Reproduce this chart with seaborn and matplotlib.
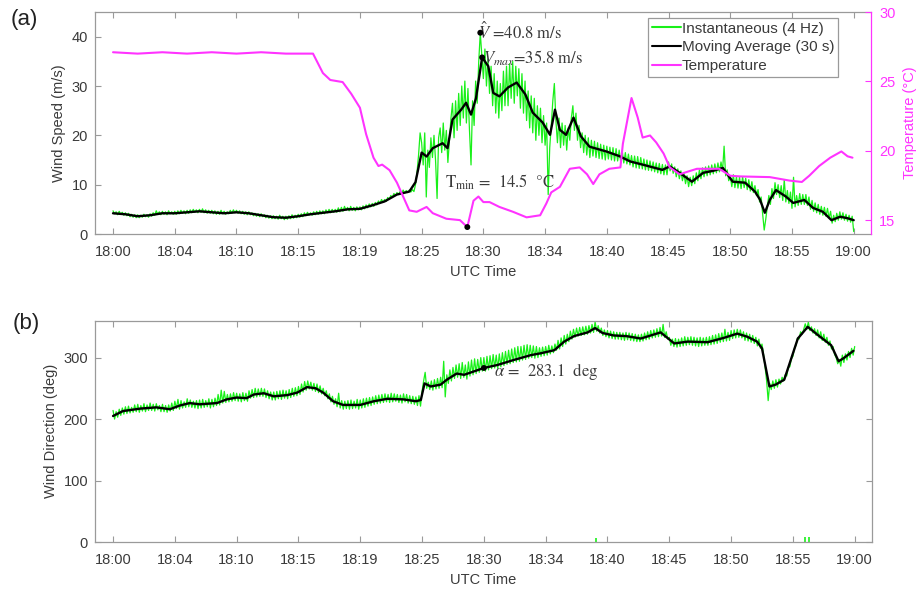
import numpy as np
import pandas as pd
import matplotlib
matplotlib.use("Agg")
import matplotlib.pyplot as plt
import seaborn as sns
from matplotlib.lines import Line2D

# ---------------- data ----------------
TICK_MIN = [0, 5, 10, 15, 20, 25, 30, 35, 40, 45, 50, 55, 60]
TICK_LABELS = ["18:00", "18:04", "18:10", "18:15", "18:19", "18:25", "18:30",
               "18:34", "18:40", "18:45", "18:50", "18:55", "19:00"]

# instantaneous wind speed (m/s), one value every 0.125 min (one row per minute)
INST_SPEED = [
    4.7, 4.1, 4.5, 3.9, 4.6, 4.0, 4.4, 3.8,
    4.3, 3.7, 4.2, 3.5, 4.0, 3.4, 3.9, 3.3,
    3.9, 3.3, 3.8, 3.4, 4.0, 3.5, 3.9, 3.4,
    4.1, 3.6, 4.3, 3.8, 4.7, 4.0, 4.5, 3.9,
    4.6, 4.0, 4.5, 3.9, 4.7, 4.1, 4.5, 4.0,
    4.6, 4.0, 4.7, 4.1, 4.8, 4.2, 4.7, 4.1,
    4.8, 4.2, 4.9, 4.3, 5.0, 4.4, 4.9, 4.3,
    5.0, 4.4, 5.1, 4.3, 4.9, 4.2, 4.8, 4.2,
    4.8, 4.1, 4.7, 4.0, 4.6, 4.0, 4.8, 4.1,
    4.6, 4.0, 4.5, 4.1, 4.8, 4.2, 4.9, 4.3,
    4.8, 4.2, 4.7, 4.1, 4.6, 4.0, 4.5, 3.9,
    4.5, 3.9, 4.3, 3.7, 4.2, 3.6, 4.1, 3.5,
    4.1, 3.5, 3.9, 3.3, 3.8, 3.2, 3.7, 3.1,
    3.7, 3.1, 3.6, 3.0, 3.8, 3.1, 3.6, 2.9,
    3.6, 3.0, 3.7, 3.1, 3.9, 3.2, 3.8, 3.3,
    4.0, 3.4, 4.1, 3.5, 4.3, 3.7, 4.4, 3.8,
    4.3, 3.8, 4.5, 3.9, 4.6, 4.0, 4.7, 4.1,
    4.7, 4.1, 4.9, 4.3, 5.0, 4.3, 5.0, 4.4,
    5.0, 4.4, 5.3, 4.5, 5.4, 4.6, 5.6, 4.8,
    5.4, 4.7, 5.6, 4.8, 5.4, 4.7, 5.5, 4.9,
    5.5, 4.9, 5.7, 5.1, 5.9, 5.3, 6.1, 5.5,
    6.2, 5.6, 6.4, 5.9, 6.7, 6.2, 7.0, 6.4,
    7.0, 6.6, 7.4, 7.0, 7.8, 7.4, 8.2, 7.8,
    8.4, 8.0, 8.6, 8.2, 8.9, 8.3, 8.8, 8.4,
    8.9, 8.5, 9.0, 8.6, 10.0, 12.5, 16.0, 20.5,
    18.5, 14.0, 20.5, 7.5, 17.0, 13.5, 19.5, 15.5,
    20.0, 15.0, 7.2, 19.5, 21.5, 16.5, 22.5, 17.0,
    21.0, 14.5, 19.0, 23.5, 26.5, 19.5, 27.0, 21.0,
    28.5, 22.0, 30.0, 23.5, 31.0, 22.5, 29.5, 21.0,
    14.0, 27.0, 22.0, 31.0, 26.5, 35.0, 40.8, 36.0,
    31.5, 37.5, 30.0, 35.5, 28.5, 34.0, 26.0, 32.5,
    24.5, 31.0, 23.5, 30.5, 25.0, 33.0, 26.0, 34.0,
    26.0, 34.5, 27.5, 35.0, 26.5, 34.0, 28.0, 33.5,
    25.5, 32.5, 24.5, 31.0, 23.0, 29.0, 21.5, 28.0,
    20.5, 27.5, 19.0, 26.0, 20.0, 25.5, 18.5, 24.0,
    18.0, 22.5, 8.0, 17.5, 22.0, 27.0, 30.5, 23.0,
    18.5, 23.5, 17.5, 22.5, 18.0, 22.0, 17.0, 21.5,
    19.0, 23.5, 26.0, 21.0, 24.5, 19.0, 22.0, 17.5,
    20.5, 16.5, 20.0, 16.0, 19.5, 15.5, 19.0, 15.8,
    18.8, 15.5, 18.5, 15.3, 18.2, 15.2, 18.0, 15.0,
    17.8, 15.2, 17.6, 15.0, 17.5, 14.8, 17.3, 14.8,
    17.0, 14.6, 16.8, 14.4, 16.5, 14.2, 16.2, 14.0,
    15.9, 13.6, 15.8, 13.4, 15.7, 13.3, 15.5, 13.2,
    15.2, 13.0, 15.0, 12.9, 14.8, 12.8, 14.6, 12.6,
    14.4, 12.4, 14.3, 12.2, 14.1, 12.0, 14.0, 12.0,
    14.6, 12.8, 14.2, 12.3, 13.6, 11.6, 13.2, 11.2,
    12.8, 10.8, 12.3, 10.2, 11.8, 9.6, 11.5, 9.8,
    11.8, 10.2, 12.4, 10.8, 13.0, 11.2, 13.4, 11.6,
    13.6, 11.8, 13.8, 12.0, 14.0, 12.2, 14.2, 12.4,
    14.4, 12.6, 14.6, 12.8, 17.8, 11.8, 13.0, 10.8,
    11.8, 9.6, 12.0, 9.4, 11.6, 9.3, 11.5, 9.2,
    11.6, 9.4, 11.3, 9.0, 11.0, 8.7, 10.6, 8.4,
    9.8, 7.8, 9.0, 6.5, 7.5, 4.0, 0.8, 3.0,
    5.5, 7.8, 6.0, 9.2, 7.2, 10.4, 8.0, 10.0,
    7.4, 9.8, 6.8, 11.0, 6.5, 8.8, 6.2, 8.5,
    5.2, 11.5, 5.5, 7.8, 5.8, 8.2, 6.0, 8.0,
    6.0, 8.0, 5.8, 7.5, 5.0, 6.8, 4.6, 6.3,
    4.3, 6.0, 4.0, 5.6, 3.8, 5.4, 3.6, 5.2,
    3.2, 4.6, 2.2, 3.8, 2.5, 4.2, 2.8, 4.5,
    3.0, 4.3, 2.8, 4.0, 2.6, 3.8, 2.4, 3.6,
    0.5,
]

# 30 s moving average of wind speed
MA_TIME = [0, 1, 2, 3, 4, 5, 6, 7, 8, 9, 10, 11, 12, 13, 14, 15, 16, 17, 18, 19, 20, 21, 22, 23, 24,
           24.5, 25.0, 25.4, 25.9, 26.7, 27.1, 27.5, 28.2, 28.6, 29.0, 29.4, 29.9, 30.4, 30.8, 31.3,
           32.0, 32.7, 33.4, 34.0, 34.8, 35.4, 35.8, 36.2, 36.7, 37.3, 37.9, 38.6, 40.0, 41.0, 41.9,
           43.0, 44.5, 45.1, 45.9, 46.9, 47.8, 48.6, 49.4, 49.8, 50.2, 51.2, 52.0, 52.4, 52.8, 53.2,
           53.7, 54.5, 55.1, 56.0, 56.7, 57.5, 58.2, 58.9, 59.5, 60.0]
MA_SPEED = [4.2, 4.0, 3.6, 3.8, 4.2, 4.2, 4.4, 4.6, 4.4, 4.2, 4.4, 4.2, 3.8, 3.4, 3.3, 3.6, 4.0, 4.3,
            4.6, 5.0, 5.1, 5.8, 6.6, 8.0, 8.6, 10.5, 16.5, 15.7, 17.4, 18.4, 17.4, 23.2, 25.2, 26.6,
            24.2, 27.5, 35.8, 34.0, 28.6, 27.9, 29.7, 30.7, 28.3, 24.6, 22.6, 20.1, 25.2, 21.1, 20.1,
            23.6, 19.8, 17.7, 16.7, 15.8, 14.7, 14.0, 13.0, 13.7, 12.4, 10.6, 12.4, 12.8, 13.4, 12.0,
            10.6, 10.4, 8.6, 7.0, 4.3, 6.9, 8.9, 7.6, 6.3, 6.9, 5.3, 4.5, 2.8, 3.5, 3.2, 2.8]

# temperature (deg C)
T_TIME = [0, 2, 4, 6, 8, 10, 12, 14, 16.2, 17.0, 17.6, 18.6, 19.3, 20.0, 20.5, 21.1, 21.5, 21.8,
          22.4, 23.0, 23.5, 24.0, 24.6, 25.4, 25.9, 27.0, 28.1, 28.7, 29.2, 29.6, 30.0, 30.5, 31.3,
          32.4, 33.5, 34.6, 35.1, 35.5, 36.2, 37.0, 37.8, 38.4, 38.9, 39.4, 40.2, 41.1, 41.3, 42.0,
          42.5, 42.9, 43.5, 44.0, 44.6, 45.1, 45.9, 46.4, 47.3, 49.1, 50.0, 50.8, 53.2, 54.8, 55.8,
          56.4, 57.2, 58.1, 59.0, 59.5, 59.9]
T_VAL = [27.1, 27.0, 27.1, 27.0, 27.1, 27.0, 27.1, 27.0, 27.0, 25.6, 25.1, 24.95, 24.1, 23.1, 21.2,
         19.5, 18.9, 19.0, 18.6, 17.7, 16.7, 15.7, 15.6, 15.95, 15.5, 15.1, 15.0, 14.5, 16.4, 16.7,
         16.3, 16.3, 15.95, 15.6, 15.2, 15.35, 16.2, 17.0, 17.4, 18.7, 18.8, 18.3, 17.6, 18.3, 18.7,
         18.8, 20.5, 23.8, 22.4, 20.95, 21.1, 20.6, 19.8, 18.8, 18.3, 18.45, 18.7, 18.7, 18.2, 18.15,
         18.1, 17.85, 17.75, 18.2, 18.9, 19.5, 19.95, 19.6, 19.5]

# instantaneous wind direction (deg), one value every 0.125 min (one row per minute)
INST_DIR = [
    214, 200, 212, 203, 216, 206, 218, 208,
    220, 209, 221, 210, 219, 211, 223, 212,
    224, 211, 222, 213, 225, 212, 223, 214,
    226, 214, 224, 213, 225, 215, 222, 212,
    224, 212, 222, 211, 223, 213, 226, 214,
    229, 217, 232, 216, 230, 218, 228, 219,
    233, 220, 231, 219, 229, 218, 230, 217,
    231, 218, 232, 219, 230, 220, 233, 218,
    232, 220, 234, 222, 240, 223, 247, 226,
    245, 227, 240, 228, 241, 229, 243, 230,
    242, 229, 241, 228, 243, 230, 242, 229,
    246, 234, 248, 235, 250, 236, 249, 237,
    250, 237, 249, 235, 246, 233, 244, 231,
    244, 231, 245, 233, 246, 232, 247, 234,
    246, 233, 248, 235, 250, 237, 251, 238,
    253, 240, 257, 244, 261, 247, 262, 249,
    260, 247, 258, 245, 257, 243, 254, 241,
    250, 238, 246, 233, 241, 228, 237, 224,
    233, 220, 242, 218, 230, 216, 229, 217,
    230, 216, 231, 217, 229, 218, 232, 216,
    231, 218, 233, 219, 234, 221, 235, 222,
    236, 224, 238, 225, 239, 226, 240, 227,
    241, 228, 240, 227, 242, 228, 241, 229,
    240, 227, 239, 226, 241, 228, 240, 226,
    238, 225, 237, 224, 236, 222, 238, 221,
    245, 262, 276, 250, 260, 248, 262, 247,
    264, 249, 266, 250, 268, 251, 294, 236,
    272, 258, 280, 262, 284, 266, 288, 268,
    290, 266, 292, 268, 288, 265, 293, 270,
    296, 272, 298, 274, 297, 276, 300, 278,
    300, 278, 302, 280, 303, 282, 305, 283,
    304, 282, 306, 285, 308, 287, 310, 289,
    312, 290, 314, 292, 316, 293, 318, 294,
    318, 296, 320, 297, 321, 299, 320, 300,
    319, 299, 318, 300, 316, 302, 317, 303,
    318, 304, 320, 306, 319, 308, 322, 312,
    328, 314, 332, 318, 336, 322, 338, 326,
    343, 330, 346, 333, 348, 335, 349, 336,
    350, 337, 351, 338, 352, 340, 354, 341,
    358, 343, 352, 340, 348, 336, 345, 334,
    344, 332, 343, 331, 342, 330, 341, 330,
    341, 329, 340, 328, 341, 329, 340, 328,
    339, 327, 338, 326, 337, 326, 338, 327,
    340, 329, 342, 330, 344, 332, 345, 333,
    347, 334, 349, 335, 354, 333, 342, 330,
    333, 320, 330, 318, 331, 317, 330, 318,
    332, 319, 334, 320, 333, 321, 334, 320,
    333, 319, 332, 318, 333, 319, 332, 320,
    333, 320, 334, 321, 336, 322, 337, 323,
    339, 325, 340, 326, 346, 327, 341, 328,
    344, 331, 345, 332, 346, 333, 345, 332,
    342, 328, 340, 327, 338, 325, 336, 323,
    333, 319, 330, 315, 322, 305, 285, 262,
    230, 258, 248, 262, 250, 264, 252, 265,
    257, 268, 262, 272, 270, 284, 285, 298,
    302, 315, 320, 332, 330, 342, 338, 346,
    355, 346, 358, 344, 350, 340, 347, 336,
    345, 332, 342, 328, 338, 325, 333, 320,
    327, 314, 318, 305, 300, 290, 297, 286,
    304, 292, 306, 296, 310, 300, 315, 304,
    318,
]
# wrapped (360 -> 0) instantaneous samples
WRAP_TIME = [39.1, 56.0, 56.3]
WRAP_DIR = [2, 4, 4]

# 30 s moving average of wind direction
D_TIME = [0, 0.8, 2.2, 3.5, 4.6, 5.4, 6.2, 7.0, 8.4, 9.2, 10.0, 10.8, 11.4, 12.2, 13.0, 14.1, 14.9,
          15.7, 16.4, 17.0, 17.8, 18.6, 20.0, 21.1, 22.2, 23.5, 24.5, 24.9, 25.2, 25.7, 26.5, 27.0,
          27.8, 28.4, 30.0, 31.1, 32.4, 33.8, 34.6, 35.7, 36.5, 37.3, 38.4, 39.0, 39.6, 40.5, 41.5,
          42.7, 44.3, 45.4, 46.5, 48.1, 49.4, 50.5, 51.3, 52.1, 52.5, 53.1, 53.6, 54.3, 55.4, 56.2,
          57.0, 58.1, 58.7, 59.1, 59.9]
D_VAL = [205, 213, 217, 219, 216, 222, 226, 224, 226, 232, 235, 234, 240, 242, 237, 239, 243, 252,
         250, 243, 229, 223, 223, 229, 233, 232, 229, 231, 258, 253, 256, 264, 274, 272, 283.1, 288,
         296, 304, 307, 312, 326, 335, 341, 348, 340, 336, 335, 331, 341, 323, 326, 325, 332, 339,
         334, 326, 315, 253, 256, 264, 331, 350, 337, 320, 294, 299, 311]

# annotated points
VHAT_T, VHAT_V = 29.75, 40.8
VMAX_T, VMAX_V = 29.9, 35.8
TMIN_T, TMIN_V = 28.7, 14.5
ALPHA_T, ALPHA_V = 30.0, 283.1

# ---------------- style ----------------
sns.set_style("ticks")
plt.rcParams['font.family'] = ['Liberation Sans', 'DejaVu Sans']
plt.rcParams['mathtext.fontset'] = 'stix'

GREEN = '#19f019'
MAGENTA = '#ff33ff'
SPINE = '#9a9a9a'
TXT = '#3a3a3a'
FS = 10.5

df_inst = pd.DataFrame({'t': np.linspace(0, 60, len(INST_SPEED)), 'v': INST_SPEED})
df_idir = pd.DataFrame({'t': np.linspace(0, 60, len(INST_DIR)), 'd': INST_DIR})
df_ma = pd.DataFrame({'t': MA_TIME, 'v': MA_SPEED})
df_T = pd.DataFrame({'t': T_TIME, 'T': T_VAL})
df_d = pd.DataFrame({'t': D_TIME, 'd': D_VAL})

fig = plt.figure(figsize=(9.21, 5.91), dpi=100)
W, H = 921, 591
ax1 = fig.add_axes([95 / W, 1 - 234 / H, 776 / W, 222 / H])
ax2 = fig.add_axes([95 / W, 1 - 542 / H, 777 / W, 221.3 / H])
XLIM = (-1.46, 61.4)


def style_axes(ax):
    for s in ax.spines.values():
        s.set_color(SPINE)
        s.set_linewidth(0.9)
    ax.set_xlim(*XLIM)
    ax.set_xticks(TICK_MIN)
    ax.set_xticklabels(TICK_LABELS)
    ax.tick_params(axis='both', direction='in', length=4.5, width=0.8, color=SPINE,
                   labelcolor=TXT, labelsize=FS, top=True)
    ax.tick_params(axis='x', pad=8)
    ax.tick_params(axis='y', pad=5)
    ax.set_xlabel('UTC Time', fontsize=FS, color=TXT, labelpad=4)


# ---- panel (a) ----
sns.lineplot(data=df_inst, x='t', y='v', ax=ax1, color=GREEN, lw=0.9, estimator=None, sort=False)
sns.lineplot(data=df_ma, x='t', y='v', ax=ax1, color='black', lw=1.7, estimator=None, sort=False)
sns.scatterplot(x=[VHAT_T, VMAX_T], y=[VHAT_V, VMAX_V], ax=ax1, color='black', s=18,
                edgecolor='none', zorder=5)
style_axes(ax1)
ax1.set_ylim(0, 45)
ax1.set_yticks([0, 10, 20, 30, 40])
ax1.set_ylabel('Wind Speed (m/s)', fontsize=FS, color=TXT, labelpad=4)
ax1.spines['right'].set_visible(False)

ax1r = ax1.twinx()
sns.lineplot(data=df_T, x='t', y='T', ax=ax1r, color=MAGENTA, lw=1.5, estimator=None, sort=False)
sns.scatterplot(x=[TMIN_T], y=[TMIN_V], ax=ax1r, color='black', s=18, edgecolor='none', zorder=5)
ax1r.set_ylim(14, 30)
ax1r.set_yticks([15, 20, 25, 30])
ax1r.set_xlim(*XLIM)
for k in ['left', 'top', 'bottom']:
    ax1r.spines[k].set_visible(False)
ax1r.spines['right'].set_color(MAGENTA)
ax1r.spines['right'].set_linewidth(0.9)
ax1r.tick_params(axis='y', direction='in', length=4.5, width=0.8, colors=MAGENTA,
                 labelsize=FS, pad=6)
ax1r.set_ylabel('Temperature (°C)', fontsize=FS, color=MAGENTA, labelpad=5)
ax1r.set_xlabel('')

SERIF = dict(family='STIXGeneral', color=TXT, fontsize=12)
ax1.text(VHAT_T - 0.15, VHAT_V, r'$\hat{V}$ =40.8 m/s', ha='left', va='center', **SERIF)
ax1.text(VMAX_T + 0.05, VMAX_V - 0.1, r'$V_{max}$=35.8 m/s', ha='left', va='center', **SERIF)
ax1.text(26.9, 10.4, r'T$_{\mathrm{min}}$ =  14.5  °C', ha='left', va='center', **SERIF)

handles = [Line2D([], [], color=GREEN, lw=1.5),
           Line2D([], [], color='black', lw=1.5),
           Line2D([], [], color=MAGENTA, lw=1.5)]
leg = ax1r.legend(handles, ['Instantaneous (4 Hz)', 'Moving Average (30 s)', 'Temperature'],
                  loc='upper right', bbox_to_anchor=(0.9575, 0.973), borderaxespad=0,
                  fontsize=FS + 0.5, frameon=True, fancybox=False, framealpha=1,
                  edgecolor=SPINE, handlelength=1.9, handletextpad=0.05,
                  labelspacing=0.3, borderpad=0.25)
leg.get_frame().set_linewidth(0.9)
for t in leg.get_texts():
    t.set_color(TXT)

# ---- panel (b) ----
sns.lineplot(data=df_idir, x='t', y='d', ax=ax2, color=GREEN, lw=0.9, estimator=None, sort=False)
sns.scatterplot(x=WRAP_TIME, y=WRAP_DIR, ax=ax2, color=GREEN, marker='|', s=25, linewidth=1.2)
sns.lineplot(data=df_d, x='t', y='d', ax=ax2, color='black', lw=1.7, estimator=None, sort=False)
sns.scatterplot(x=[ALPHA_T], y=[ALPHA_V], ax=ax2, color='black', s=18, edgecolor='none', zorder=5)
style_axes(ax2)
ax2.set_ylim(0, 360)
ax2.set_yticks([0, 100, 200, 300])
ax2.tick_params(axis='y', right=True, labelright=False)
ax2.set_ylabel('Wind Direction (deg)', fontsize=FS, color=TXT, labelpad=4)
ax2.text(30.8, 277, r'$\alpha$ =  283.1  deg', ha='left', va='center', **SERIF)

fig.text(11 / W, 1 - 20 / H, '(a)', fontsize=16, color='#222222', ha='left', va='center')
fig.text(13 / W, 1 - 324 / H, '(b)', fontsize=16, color='#222222', ha='left', va='center')

fig.savefig('out.png', dpi=100)
